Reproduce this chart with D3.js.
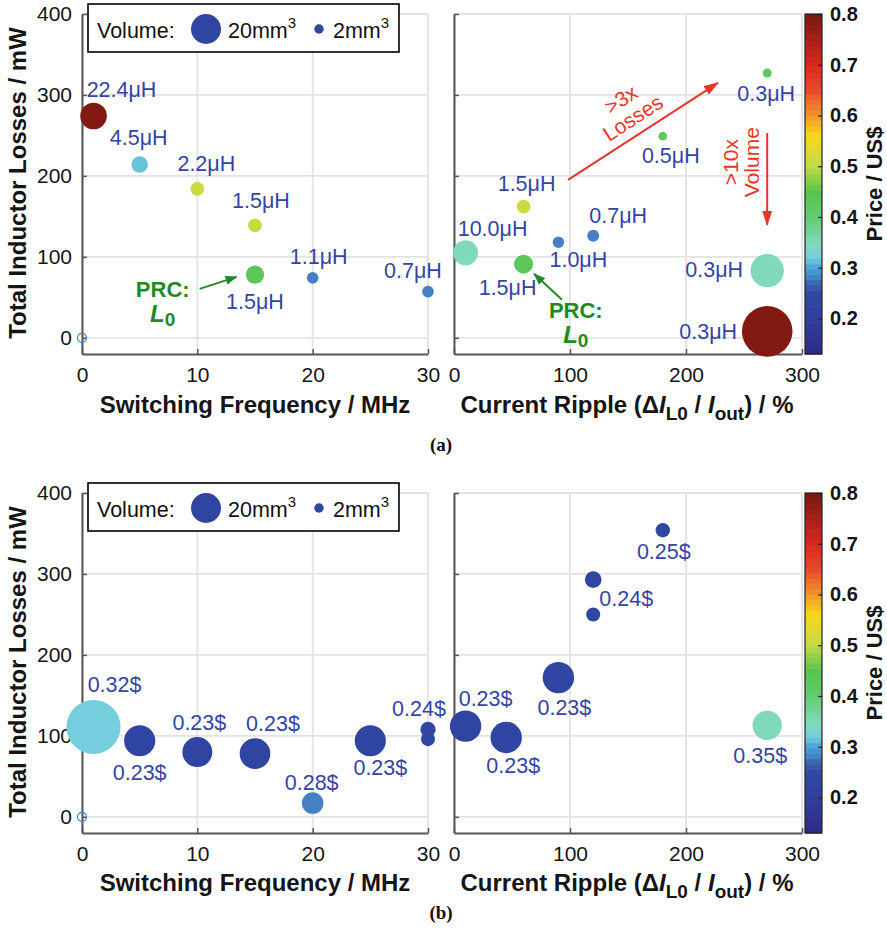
<!DOCTYPE html>
<html><head><meta charset="utf-8">
<script src="https://cdn.jsdelivr.net/npm/d3@7"></script>
<style>
body{margin:0;background:#fff;}
svg{display:block;font-family:"Liberation Sans",Arial,Helvetica,sans-serif;}
</style></head><body>
<svg id="c" width="887" height="937"></svg>
<script>
// ---------- DATA ----------
// (a) left: losses vs switching frequency
const aFreq      = [1, 5, 10, 15, 15, 20, 30];
const aFreqLoss  = [274, 214, 184, 139, 78, 74, 57];
const aFreqPrice = [0.79, 0.315, 0.51, 0.51, 0.43, 0.28, 0.28];
const aFreqVol   = [15.7, 6.1, 4.2, 4.2, 7.5, 3.0, 3.0];
const aFreqLabel = ["22.4μH", "4.5μH", "2.2μH", "1.5μH", "1.5μH", "1.1μH", "0.7μH"];
// (a) right: losses vs current ripple
const aRip      = [10, 60, 60, 90, 120, 180, 270, 270, 270];
const aRipLoss  = [105, 162, 91, 118, 126, 249, 327, 83, 8];
const aRipPrice = [0.35, 0.51, 0.43, 0.28, 0.28, 0.43, 0.43, 0.35, 0.79];
const aRipVol   = [13.9, 4.2, 8.0, 2.9, 3.2, 1.65, 1.8, 24.8, 56.9];
const aRipLabel = ["10.0μH", "1.5μH", "1.5μH", "1.0μH", "0.7μH", "0.5μH", "0.3μH", "0.3μH", "0.3μH"];
// (b) left
const bFreq      = [1, 5, 10, 15, 20, 25, 30, 30];
const bFreqLoss  = [111, 94, 80, 78, 17, 94, 108, 96];
const bFreqPrice = [0.32, 0.23, 0.23, 0.23, 0.28, 0.23, 0.24, 0.24];
const bFreqVol   = [64.8, 21.5, 20, 20.8, 10.4, 21.5, 5.2, 4.4];
const bFreqLabel = ["0.32$", "0.23$", "0.23$", "0.23$", "0.28$", "0.23$", "0.24$", ""];
// (b) right
const bRip      = [10, 45, 90, 120, 120, 180, 270];
const bRipLoss  = [112, 98, 172, 293, 250, 354, 113];
const bRipPrice = [0.23, 0.23, 0.23, 0.24, 0.24, 0.25, 0.35];
const bRipVol   = [21.9, 21.9, 21.9, 6.2, 4.4, 4.6, 19.2];
const bRipLabel = ["0.23$", "0.23$", "0.23$", "", "0.24$", "0.25$", "0.35$"];
// reference (empty) point at origin
const originPt = [0, 0];
// ticks
const freqTicks  = [0, 10, 20, 30];
const rippleTicks = [0, 100, 200, 300];
const lossTicks  = [0, 100, 200, 300, 400];
const priceTicks = [0.2, 0.3, 0.4, 0.5, 0.6, 0.7, 0.8];
const priceRange = [0.13, 0.8];
const legendVolumes = [20, 2];
const legendLabels = ["20mm", "2mm"];
// colormap
const priceStops  = [0.13, 0.2, 0.25, 0.27, 0.28, 0.3, 0.32, 0.35, 0.4, 0.45, 0.5, 0.56, 0.6, 0.65, 0.7, 0.8];
const priceColors = ["#2c2a86","#2f3f9e","#3148a3","#3a64b2","#4580c2","#4aa0d8","#74cedd","#80d9b8","#62cc70","#58c44c","#c2da48","#f8d81c","#f4962a","#e84a2a","#d8281e","#781812"];

// label offsets (px, relative to marker centre)
const aFreqOff = [[28,-27],[-1,-27],[9,-25],[6,-25],[0,27],[6,-21],[-15,-21]];
const aRipOff  = [[27,-24],[3,-23],[-16,23],[20,17],[25,-20],[8,19],[-1,20],[-53,-1],[-59,0]];
const bFreqOff = [[21,-42],[0,32],[2,-30],[18,-30],[-1,-21],[10,27],[-9,-21],[0,0]];
const bRipOff  = [[20,-28],[7,28],[6,30],[0,0],[33,-16],[1,21],[-7,30]];

// ---------- SCALES ----------
const svg = d3.select("#c");
const color = d3.scaleLinear().domain(priceStops).range(priceColors).interpolate(d3.interpolateRgb).clamp(true);
const rScale = d3.scaleSqrt().domain([0, 20]).range([0, 15]);
const yTop = d3.scaleLinear().domain([-20, 400]).range([354, 14]);
const yBot = d3.scaleLinear().domain([-20, 400]).range([833, 493]);
const xFreq = d3.scaleLinear().domain([0, 30]).range([82, 428]);
const xRip = d3.scaleLinear().domain([0, 300]).range([454, 802]);

const LABEL_BLUE = "#3444a6", GREEN = "#1f8a24", RED = "#e8352a";

// markers
const defs = svg.append("defs");
[["ahG", GREEN, 12, 9], ["ahR", RED, 15, 10]].forEach(([id, c, L, Wd]) => {
  defs.append("marker").attr("id", id).attr("markerUnits", "userSpaceOnUse")
    .attr("markerWidth", L).attr("markerHeight", Wd).attr("refX", L - 1).attr("refY", Wd / 2)
    .attr("orient", "auto").append("path").attr("d", `M0,0L${L},${Wd/2}L0,${Wd}Z`).attr("fill", c);
});

function grid(x, y, xt, yt) {
  const g = svg.append("g").attr("stroke", "#e3e3e3").attr("stroke-width", 1.8);
  g.selectAll("line.v").data(xt).join("line").attr("class", "v")
    .attr("x1", d => x(d)).attr("x2", d => x(d)).attr("y1", y.range()[0]).attr("y2", y.range()[1]);
  g.selectAll("line.h").data(yt).join("line").attr("class", "h")
    .attr("y1", d => y(d)).attr("y2", d => y(d)).attr("x1", x.range()[0]).attr("x2", x.range()[1]);
}

function axes(x, y, xt, yt, yLabels) {
  const gx = svg.append("g").attr("transform", `translate(0,${y.range()[0]})`)
    .call(d3.axisBottom(x).tickValues(xt).tickSize(-5).tickSizeOuter(0).tickPadding(13).tickFormat(d3.format("d")));
  const gy = svg.append("g").attr("transform", `translate(${x.range()[0]},0)`)
    .call(d3.axisLeft(y).tickValues(yt).tickSize(-5).tickSizeOuter(0).tickPadding(10)
      .tickFormat(yLabels ? d3.format("d") : () => ""));
  [gx, gy].forEach(g => {
    g.attr("font-size", null).attr("font-family", null);
    g.select(".domain").attr("stroke", "#555").attr("stroke-width", 2);
    g.selectAll(".tick line").attr("stroke", "#555").attr("stroke-width", 1.5);
    g.selectAll(".tick text").attr("fill", "#151515").style("font-size", "21px");
  });
}

function dots(x, y, X, Y, P, V) {
  svg.append("g").selectAll("circle").data(d3.range(X.length)).join("circle")
    .attr("cx", i => x(X[i])).attr("cy", i => y(Y[i])).attr("r", i => rScale(V[i]))
    .attr("fill", i => color(P[i]));
}
function origin(x, y) {
  svg.append("circle").attr("cx", x(originPt[0])).attr("cy", y(originPt[1])).attr("r", 4.5)
    .attr("fill", "none").attr("stroke", "#3a80d0").attr("stroke-width", 1.2);
}
function labels(x, y, X, Y, L, off) {
  svg.append("g").selectAll("text").data(d3.range(X.length).filter(i => L[i])).join("text")
    .attr("x", i => x(X[i]) + off[i][0]).attr("y", i => y(Y[i]) + off[i][1])
    .attr("dy", "0.35em").attr("text-anchor", "middle").attr("fill", LABEL_BLUE)
    .style("font-size", "21.5px").text(i => L[i]);
}
function legend(top) {
  const g = svg.append("g").attr("transform", `translate(88,${top})`);
  g.append("rect").attr("width", 311).attr("height", 48).attr("fill", "#fff").attr("stroke", "#000").attr("stroke-width", 1.6);
  g.append("text").attr("x", 9).attr("y", 34).style("font-size", "21.5px").attr("fill", "#111").text("Volume:");
  const cx = [118, 231], tx = [140, 245];
  legendVolumes.forEach((v, i) => {
    g.append("circle").attr("cx", cx[i]).attr("cy", 25).attr("r", rScale(v)).attr("fill", color(0.23));
    const t = g.append("text").attr("x", tx[i]).attr("y", 34).style("font-size", "21.5px").attr("fill", "#111");
    t.append("tspan").text(legendLabels[i]);
    t.append("tspan").attr("dy", -10).style("font-size", "15px").text("3");
  });
}
function colorbar(top, bottom) {
  const cs = d3.scaleLinear().domain(priceRange).range([bottom, top]);
  const n = 64, step = (priceRange[1] - priceRange[0]) / n;
  svg.append("g").selectAll("rect").data(d3.range(n)).join("rect")
    .attr("x", 805).attr("width", 17)
    .attr("y", i => cs(priceRange[0] + (i + 1) * step))
    .attr("height", i => cs(priceRange[0] + i * step) - cs(priceRange[0] + (i + 1) * step) + 0.6)
    .attr("fill", i => color(priceRange[0] + (i + 0.5) * step));
  svg.append("rect").attr("x", 805).attr("y", top).attr("width", 17).attr("height", bottom - top)
    .attr("fill", "none").attr("stroke", "#222").attr("stroke-width", 1.2);
  const g = svg.append("g").attr("transform", "translate(822,0)")
    .call(d3.axisRight(cs).tickValues(priceTicks).tickSize(-4).tickSizeOuter(0).tickPadding(8).tickFormat(d3.format(".1f")));
  g.attr("font-size", null).attr("font-family", null);
  g.select(".domain").remove();
  g.selectAll(".tick line").attr("stroke", "#222").attr("stroke-width", 1.2);
  g.selectAll(".tick text").attr("fill", "#151515").style("font-size", "20px").style("font-weight", "bold");
  svg.append("text").attr("transform", `translate(882,${(top + bottom) / 2}) rotate(-90)`)
    .attr("text-anchor", "middle").style("font-size", "22px").style("font-weight", "bold").attr("fill", "#151515")
    .text("Price / US$");
}
function titles(yBase, yCenter) {
  svg.append("text").attr("transform", `translate(26,${yCenter}) rotate(-90)`).attr("text-anchor", "middle")
    .style("font-size", "24px").style("font-weight", "bold").attr("fill", "#151515").text("Total Inductor Losses / mW");
  svg.append("text").attr("x", 255).attr("y", yBase).attr("text-anchor", "middle")
    .style("font-size", "24px").style("font-weight", "bold").attr("fill", "#151515").text("Switching Frequency / MHz");
  const t = svg.append("text").attr("x", 627).attr("y", yBase).attr("text-anchor", "middle")
    .style("font-size", "24px").style("font-weight", "bold").attr("fill", "#151515");
  t.append("tspan").text("Current Ripple (Δ");
  t.append("tspan").style("font-style", "italic").text("I");
  t.append("tspan").attr("dy", 7).style("font-size", "19px").text("L0");
  t.append("tspan").attr("dy", -7).text(" / ");
  t.append("tspan").style("font-style", "italic").text("I");
  t.append("tspan").attr("dy", 7).style("font-size", "19px").text("out");
  t.append("tspan").attr("dy", -7).text(") / %");
}
function caption(y, s) {
  svg.append("text").attr("x", 441).attr("y", y).attr("text-anchor", "middle")
    .style("font-family", "'Liberation Serif','Times New Roman',serif").style("font-size", "19px")
    .style("font-weight", "bold").attr("fill", "#111").text(s);
}
function arrow(x, y, p0, p1, c, id) {
  svg.append("line").attr("x1", x(p0[0])).attr("y1", y(p0[1])).attr("x2", x(p1[0])).attr("y2", y(p1[1]))
    .attr("stroke", c).attr("stroke-width", 2).attr("marker-end", `url(#${id})`);
}
function prc(x, y, pos) {
  const g = svg.append("g").attr("fill", GREEN).style("font-weight", "bold");
  g.append("text").attr("x", x(pos[0])).attr("y", y(pos[1]) - 2).attr("dy", "0.35em").attr("text-anchor", "middle")
    .style("font-size", "22px").text("PRC:");
  const t = g.append("text").attr("x", x(pos[0])).attr("y", y(pos[1]) + 25).attr("dy", "0.35em").attr("text-anchor", "middle");
  t.append("tspan").style("font-style", "italic").style("font-size", "24px").text("L");
  t.append("tspan").attr("dy", 4).style("font-size", "19px").text("0");
}

// annotation anchors (data units)
const prcA = [7.0, 57], prcArrowA = [[10.2, 60.5], [13.4, 75.3]];
const prcB = [105, 31], prcArrowB = [[93.1, 47], [69, 79]];
const lossArrow = [[98.3, 195], [227.6, 315]], lossText = [149, 283];
const volArrow = [[270, 253], [270, 139.5]], volText = [247, 217];

// ---------- DRAW (a) ----------
grid(xFreq, yTop, freqTicks, lossTicks);
grid(xRip, yTop, rippleTicks, lossTicks);
axes(xFreq, yTop, freqTicks, lossTicks, true);
axes(xRip, yTop, rippleTicks, lossTicks, false);
origin(xFreq, yTop);
dots(xFreq, yTop, aFreq, aFreqLoss, aFreqPrice, aFreqVol);
dots(xRip, yTop, aRip, aRipLoss, aRipPrice, aRipVol);
labels(xFreq, yTop, aFreq, aFreqLoss, aFreqLabel, aFreqOff);
labels(xRip, yTop, aRip, aRipLoss, aRipLabel, aRipOff);
legend(4);
colorbar(14, 354);
titles(413, 183);
caption(451, "(a)");
prc(xFreq, yTop, prcA);
arrow(xFreq, yTop, prcArrowA[0], prcArrowA[1], GREEN, "ahG");
prc(xRip, yTop, prcB);
arrow(xRip, yTop, prcArrowB[0], prcArrowB[1], GREEN, "ahG");
arrow(xRip, yTop, lossArrow[0], lossArrow[1], RED, "ahR");
arrow(xRip, yTop, volArrow[0], volArrow[1], RED, "ahR");
{
  const g = svg.append("g").attr("transform", `translate(${xRip(lossText[0])},${yTop(lossText[1])}) rotate(-33)`)
    .attr("fill", RED).attr("text-anchor", "middle").style("font-size", "21px");
  g.append("text").attr("y", -11).attr("dy", "0.35em").text(">3x");
  g.append("text").attr("y", 11).attr("dy", "0.35em").text("Losses");
  const h = svg.append("g").attr("transform", `translate(${xRip(volText[0])},${yTop(volText[1]) }) rotate(-90)`)
    .attr("fill", RED).attr("text-anchor", "middle").style("font-size", "21px");
  h.append("text").attr("y", -10).attr("dy", "0.35em").text(">10x");
  h.append("text").attr("y", 11).attr("dy", "0.35em").text("Volume");
}

// ---------- DRAW (b) ----------
grid(xFreq, yBot, freqTicks, lossTicks);
grid(xRip, yBot, rippleTicks, lossTicks);
axes(xFreq, yBot, freqTicks, lossTicks, true);
axes(xRip, yBot, rippleTicks, lossTicks, false);
origin(xFreq, yBot);
dots(xFreq, yBot, bFreq, bFreqLoss, bFreqPrice, bFreqVol);
dots(xRip, yBot, bRip, bRipLoss, bRipPrice, bRipVol);
labels(xFreq, yBot, bFreq, bFreqLoss, bFreqLabel, bFreqOff);
labels(xRip, yBot, bRip, bRipLoss, bRipLabel, bRipOff);
legend(483);
colorbar(493, 833);
titles(891, 662);
caption(919, "(b)");
</script></body></html>
